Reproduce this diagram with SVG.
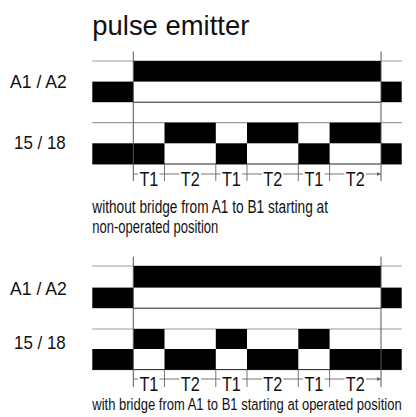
<svg xmlns="http://www.w3.org/2000/svg" width="416" height="417" viewBox="0 0 416 417">
<defs>
<style>
text{font-family:"Liberation Sans",Arial,sans-serif;fill:#111}
.gl{stroke:#9a9a9a;stroke-width:1.2;fill:none}
.bl{stroke:#222;stroke-width:1;fill:none}
.vl{stroke:#555;stroke-width:1;fill:none}
.blk{fill:#000}
.dim{stroke:#666;stroke-width:0.9;fill:none}
.dl{stroke:#666;stroke-width:0.9;fill:none;marker-end:url(#ah)}
.t{font-size:21px}
.cap{font-size:17.5px}
.lab{font-size:19px}
</style>
<marker id="ah" viewBox="0 0 6 6" refX="6" refY="3" markerWidth="4" markerHeight="4" orient="auto" markerUnits="userSpaceOnUse">
<path d="M0,0 L6,3 L0,6 z" fill="#666"/>
</marker>
</defs>

<text id="title" x="92.3" y="35" font-size="28" textLength="157" lengthAdjust="spacingAndGlyphs">pulse emitter</text>

<!-- Diagram 1 -->
<g id="d1-labels">
<text class="lab" x="10" y="87.5" textLength="56.7" lengthAdjust="spacingAndGlyphs">A1 / A2</text>
<text class="lab" x="14" y="148.5" textLength="51.7" lengthAdjust="spacingAndGlyphs">15 / 18</text>
</g>
<g id="d1-a1a2">
<line class="gl" x1="92.3" y1="61" x2="401.7" y2="61"/>
<line class="bl" x1="133.3" y1="102.2" x2="381" y2="102.2"/>
<rect class="blk" x="133.3" y="61" width="247.7" height="20.6"/>
<rect class="blk" x="92.3" y="81.6" width="41" height="20.6"/>
<rect class="blk" x="381" y="81.6" width="20.7" height="20.6"/>
</g>
<g id="d1-1518">
<line class="gl" x1="92.3" y1="122.7" x2="401.7" y2="122.7"/>
<line class="bl" x1="92.3" y1="164" x2="401.7" y2="164"/>
<rect class="blk" x="164.5" y="122.7" width="51.3" height="20.6"/>
<rect class="blk" x="247" y="122.7" width="51.3" height="20.6"/>
<rect class="blk" x="329.6" y="122.7" width="51.4" height="20.6"/>
<rect class="blk" x="92.3" y="143.3" width="72.2" height="20.7"/>
<rect class="blk" x="215.8" y="143.3" width="31.2" height="20.7"/>
<rect class="blk" x="298.3" y="143.3" width="31.3" height="20.7"/>
<rect class="blk" x="381" y="143.3" width="20.7" height="20.7"/>
</g>
<g id="d1-connectors">
<line class="vl" x1="133.3" y1="51.5" x2="133.3" y2="181"/>
<line class="vl" x1="381" y1="51.5" x2="381" y2="181"/>
<path class="dim" d="M164.5,164V181M215.8,164V181M247,164V181M298.3,164V181M329.6,164V181"/>
<path class="dl" d="M138,174H133.3M159.5,174H164.5M179.5,174H164.5M201,174H215.8M220.5,174H215.8M242,174H247M262,174H247M283.5,174H298.3M303,174H298.3M324.6,174H329.6M344.5,174H329.6M366,174H381"/>
</g>
<g id="d1-dims">
<text class="t" x="148.9" y="185.5" text-anchor="middle" textLength="19" lengthAdjust="spacingAndGlyphs">T1</text>
<text class="t" x="190.2" y="185.5" text-anchor="middle" textLength="19" lengthAdjust="spacingAndGlyphs">T2</text>
<text class="t" x="231.4" y="185.5" text-anchor="middle" textLength="19" lengthAdjust="spacingAndGlyphs">T1</text>
<text class="t" x="272.7" y="185.5" text-anchor="middle" textLength="19" lengthAdjust="spacingAndGlyphs">T2</text>
<text class="t" x="313.9" y="185.5" text-anchor="middle" textLength="19" lengthAdjust="spacingAndGlyphs">T1</text>
<text class="t" x="355.3" y="185.5" text-anchor="middle" textLength="19" lengthAdjust="spacingAndGlyphs">T2</text>
</g>
<g id="d1-caption">
<text class="cap" x="92.3" y="212.5" textLength="235.7" lengthAdjust="spacingAndGlyphs">without bridge from A1 to B1 starting at</text>
<text class="cap" x="92.3" y="233" textLength="126" lengthAdjust="spacingAndGlyphs">non-operated position</text>
</g>

<!-- Diagram 2 -->
<g id="d2-labels">
<text class="lab" x="10" y="295" textLength="56.7" lengthAdjust="spacingAndGlyphs">A1 / A2</text>
<text class="lab" x="14" y="349.3" textLength="51.7" lengthAdjust="spacingAndGlyphs">15 / 18</text>
</g>
<g id="d2-a1a2">
<line class="gl" x1="92.3" y1="266" x2="401.7" y2="266"/>
<line class="bl" x1="133.3" y1="308.2" x2="381" y2="308.2"/>
<rect class="blk" x="133.3" y="266" width="247.7" height="21.6"/>
<rect class="blk" x="92.3" y="287.6" width="41" height="20.6"/>
<rect class="blk" x="381" y="287.6" width="20.7" height="20.6"/>
</g>
<g id="d2-1518">
<line class="gl" x1="92.3" y1="329" x2="401.7" y2="329"/>
<line class="bl" x1="92.3" y1="369.6" x2="401.7" y2="369.6"/>
<rect class="blk" x="133.3" y="329" width="31.2" height="20"/>
<rect class="blk" x="215.8" y="329" width="31.2" height="20"/>
<rect class="blk" x="298.3" y="329" width="31.3" height="20"/>
<rect class="blk" x="92.3" y="349" width="41" height="20.6"/>
<rect class="blk" x="164.5" y="349" width="51.3" height="20.6"/>
<rect class="blk" x="247" y="349" width="51.3" height="20.6"/>
<rect class="blk" x="329.6" y="349" width="72.1" height="20.6"/>
</g>
<g id="d2-connectors">
<line class="vl" x1="133.3" y1="256.7" x2="133.3" y2="387"/>
<line class="vl" x1="381" y1="256.7" x2="381" y2="387"/>
<path class="dim" d="M164.5,369.6V387M215.8,369.6V387M247,369.6V387M298.3,369.6V387M329.6,369.6V387"/>
<path class="dl" d="M138,379H133.3M159.5,379H164.5M179.5,379H164.5M201,379H215.8M220.5,379H215.8M242,379H247M262,379H247M283.5,379H298.3M303,379H298.3M324.6,379H329.6M344.5,379H329.6M366,379H381"/>
</g>
<g id="d2-dims">
<text class="t" x="148.9" y="391" text-anchor="middle" textLength="19" lengthAdjust="spacingAndGlyphs">T1</text>
<text class="t" x="190.2" y="391" text-anchor="middle" textLength="19" lengthAdjust="spacingAndGlyphs">T2</text>
<text class="t" x="231.4" y="391" text-anchor="middle" textLength="19" lengthAdjust="spacingAndGlyphs">T1</text>
<text class="t" x="272.7" y="391" text-anchor="middle" textLength="19" lengthAdjust="spacingAndGlyphs">T2</text>
<text class="t" x="313.9" y="391" text-anchor="middle" textLength="19" lengthAdjust="spacingAndGlyphs">T1</text>
<text class="t" x="355.3" y="391" text-anchor="middle" textLength="19" lengthAdjust="spacingAndGlyphs">T2</text>
</g>
<g id="d2-caption">
<text transform="translate(92.3,410) scale(0.72,1)" x="0" y="0" font-size="17" textLength="429.7" lengthAdjust="spacingAndGlyphs">with bridge from A1 to B1 starting at operated position</text>
</g>
</svg>
